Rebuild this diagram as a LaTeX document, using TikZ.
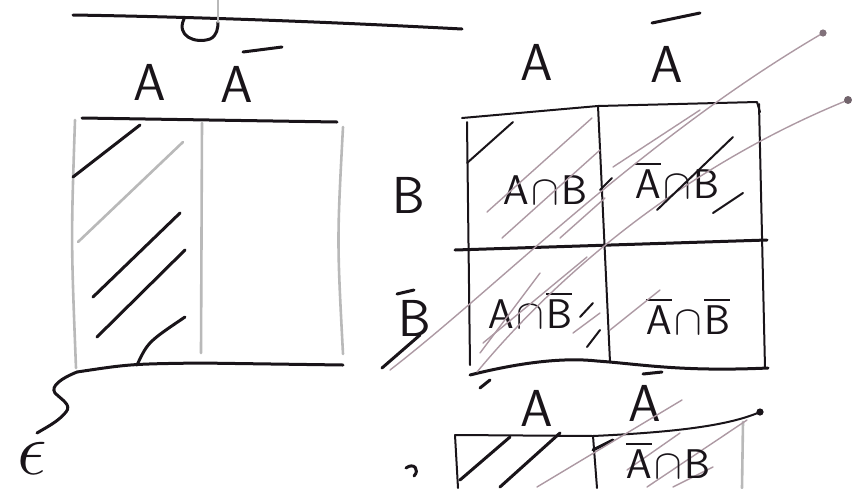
\documentclass[tikz,border=0pt]{standalone}
\usepackage{amsmath,amssymb,graphicx}
\usepackage{tikz}
\definecolor{ink}{rgb}{0.1,0.08,0.1}
\definecolor{pencil}{rgb}{0.68,0.6,0.64}

\begin{document}
\begin{tikzpicture}[x=0.5pt,y=-0.5pt,
  pen/.style={ink, line width=1.5pt, line cap=round, line join=round},
  grid/.style={ink, line width=1pt, line cap=round, line join=round},
  faint/.style={gray!55, line width=1.3pt, line cap=round},
  hatch/.style={pencil, line width=0.7pt, line cap=round},
  lbl/.style={ink, font=\fontsize{26}{28}\selectfont\sffamily, inner sep=0pt},
  cell/.style={ink, font=\fontsize{22}{24}\selectfont, inner sep=0pt}]
\useasboundingbox (0,0) rectangle (852,488);
\clip (0,0) rectangle (852,488);

% top stroke with loop
\draw[pen] (73,15) .. controls (200,17) and (330,22) .. (462,29);
\draw[pen] (184,19) .. controls (176,36) and (195,44) .. (210,39) .. controls (217,36) and (218,28) .. (218,22);
\draw[faint] (218,22) -- (218,0);

% left box: labels
\node[lbl] (lA) at (150,82) {A};
\node[lbl] (lnA) at (237,84) {A};
\draw[pen] (243,52) -- (282,47);

% left box: frame
\draw[pen] (82,118) -- (337,122);
\draw[faint] (75,120) .. controls (71,240) .. (76,368);
\draw[faint] (202,123) -- (201,353);
\draw[faint] (343,127) .. controls (337,240) .. (343,354);
\draw[pen] (77,372) .. controls (130,364) .. (200,363) -- (343,365);

% left box: hatching of A
\foreach \xa/\ya/\xb/\yb in {73/177/140/125, 93/297/180/213, 97/337/185/250}
  \draw[pen] (\xa,\ya) -- (\xb,\yb);
\draw[faint] (78,242) -- (183,142);
\draw[pen] (137,365) .. controls (148,342) .. (185,317);

% brace down to the sample space
\draw[pen] (77,372) .. controls (62,378) and (50,386) .. (55,393) .. controls (62,400) and (72,405) .. (66,412) .. controls (58,422) and (45,428) .. (37,433);
\node[ink, font=\fontsize{24}{26}\selectfont, inner sep=0pt] (eps) at (32,458) {\scalebox{1.5}{$\epsilon$}};

% 2x2 table: labels
\node[lbl] (gA) at (537,62) {A};
\node[lbl] (gnA) at (667,64) {A};
\draw[pen] (652,23) -- (700,13);
\node[lbl] (gB) at (409,195) {B};
\node[lbl] (gnB) at (415,318) {B};
\draw[pen] (397,294) -- (414,290);

% 2x2 table: frame
\draw[grid] (462,118) -- (598,106) -- (757,102) -- (760,112);
\draw[grid] (467,122) -- (470,365);
\draw[grid] (598,106) -- (610,362);
\draw[grid] (759,104) -- (765,368);
\draw[pen] (455,250) -- (767,240);
\draw[pen] (470,375) .. controls (530,360) and (570,358) .. (597,361) .. controls (640,364) and (680,372) .. (768,368);
\draw[pen] (480,388) -- (490,380);

% 2x2 table: cells
\node[cell] (ab) at (545,190) {$\mathsf{A}\!\cap\!\mathsf{B}$};
\node[cell] (nab) at (677,180) {$\overline{\mathsf{A}}\!\cap\!\mathsf{B}$};
\node[cell] (anb) at (530,310) {$\mathsf{A}\!\cap\!\overline{\mathsf{B}}$};
\node[cell] (nanb) at (688,316) {$\overline{\mathsf{A}}\!\cap\!\overline{\mathsf{B}}$};

% 2x2 table: hatching
\draw[hatch] (390,370) .. controls (500,285) and (640,140) .. (823,33);
\fill[pencil!70!ink] (823,33) circle (1.8pt);
\draw[pen] (382,368) -- (420,335);
\draw[hatch] (477,372) .. controls (570,260) and (700,160) .. (848,100);
\fill[pencil!60!ink] (848,100) circle (2pt);
\foreach \xa/\ya/\xb/\yb in {487/212/592/118, 502/238/600/150, 560/238/605/198, 613/167/700/110,
    480/353/540/273, 483/343/587/257, 573/333/600/313, 610/330/660/290}
  \draw[hatch] (\xa,\ya) -- (\xb,\yb);
\foreach \xa/\ya/\xb/\yb in {467/163/513/122, 657/210/733/137, 713/213/743/193, 600/190/612/178,
    580/317/593/303, 587/347/600/330}
  \draw[grid] (\xa,\ya) -- (\xb,\yb);

% lower table: labels
\node[lbl] (bA) at (537,408) {A};
\node[lbl] (bnA) at (645,403) {A};
\draw[pen] (643,374) -- (662,372);
\draw[pen] (406,468) .. controls (414,462) and (420,470) .. (414,476);

% lower table: frame
\draw[grid] (455,435) -- (593,436) .. controls (680,432) and (730,425) .. (760,412);
\fill[ink] (760,412) circle (1.8pt);
\draw[grid] (455,435) -- (458,488);
\draw[grid] (593,436) -- (597,488);
\draw[faint] (743,422) -- (742,488);

% lower table: hatching
\foreach \xa/\ya/\xb/\yb in {460/480/510/437, 500/487/560/433, 593/450/613/440}
  \draw[pen] (\xa,\ya) -- (\xb,\yb);
\foreach \xa/\ya/\xb/\yb in {537/487/682/400, 627/470/680/433, 647/487/747/420, 673/487/713/467}
  \draw[hatch] (\xa,\ya) -- (\xb,\yb);
\node[cell, font=\fontsize{20}{22}\selectfont] (bnab) at (668,460) {$\overline{\mathsf{A}}\!\cap\!\mathsf{B}$};

\end{tikzpicture}
\end{document}
